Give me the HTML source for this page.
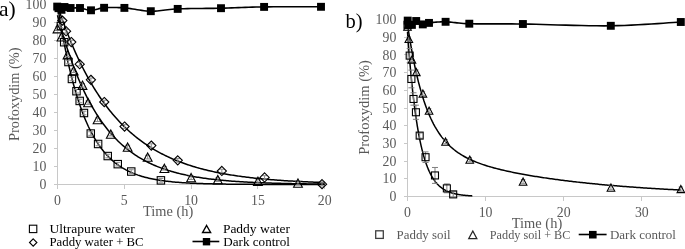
<!DOCTYPE html>
<html><head><meta charset="utf-8"><style>
html,body{margin:0;padding:0;background:#fff;width:685px;height:249px;overflow:hidden}
svg{display:block;font-family:"Liberation Serif",serif;will-change:transform}
</style></head><body>
<svg width="685" height="249" viewBox="0 0 685 249">
<rect width="685" height="249" fill="#fff"/>
<g stroke="#c8c8c8" stroke-width="1" fill="none" shape-rendering="crispEdges">
<path d="M57.5,4.4 V184.5 M53.5,184.5 H324.7"/>
<path d="M53.5,184.50 H57.5"/>
<path d="M53.5,166.49 H57.5"/>
<path d="M53.5,148.48 H57.5"/>
<path d="M53.5,130.47 H57.5"/>
<path d="M53.5,112.46 H57.5"/>
<path d="M53.5,94.45 H57.5"/>
<path d="M53.5,76.44 H57.5"/>
<path d="M53.5,58.43 H57.5"/>
<path d="M53.5,40.42 H57.5"/>
<path d="M53.5,22.41 H57.5"/>
<path d="M53.5,4.40 H57.5"/>
<path d="M57.50,184.5 V188.5"/>
<path d="M124.30,184.5 V188.5"/>
<path d="M191.10,184.5 V188.5"/>
<path d="M257.90,184.5 V188.5"/>
<path d="M324.70,184.5 V188.5"/>
</g>
<text x="46.3" y="189.10" font-size="13.8" fill="#595959" text-anchor="end" >0</text>
<text x="46.3" y="171.09" font-size="13.8" fill="#595959" text-anchor="end" >10</text>
<text x="46.3" y="153.08" font-size="13.8" fill="#595959" text-anchor="end" >20</text>
<text x="46.3" y="135.07" font-size="13.8" fill="#595959" text-anchor="end" >30</text>
<text x="46.3" y="117.06" font-size="13.8" fill="#595959" text-anchor="end" >40</text>
<text x="46.3" y="99.05" font-size="13.8" fill="#595959" text-anchor="end" >50</text>
<text x="46.3" y="81.04" font-size="13.8" fill="#595959" text-anchor="end" >60</text>
<text x="46.3" y="63.03" font-size="13.8" fill="#595959" text-anchor="end" >70</text>
<text x="46.3" y="45.02" font-size="13.8" fill="#595959" text-anchor="end" >80</text>
<text x="46.3" y="27.01" font-size="13.8" fill="#595959" text-anchor="end" >90</text>
<text x="46.3" y="9.00" font-size="13.8" fill="#595959" text-anchor="end" >100</text>
<text x="57.50" y="205.0" font-size="13.8" fill="#595959" text-anchor="middle" >0</text>
<text x="124.30" y="205.0" font-size="13.8" fill="#595959" text-anchor="middle" >5</text>
<text x="191.10" y="205.0" font-size="13.8" fill="#595959" text-anchor="middle" >10</text>
<text x="257.90" y="205.0" font-size="13.8" fill="#595959" text-anchor="middle" >15</text>
<text x="324.70" y="205.0" font-size="13.8" fill="#595959" text-anchor="middle" >20</text>
<path d="M57.50,4.40 L58.84,13.05 L60.19,21.29 L61.53,29.14 L62.87,36.60 L64.21,43.71 L65.56,50.47 L66.90,56.91 L68.24,63.05 L69.58,68.88 L70.93,74.44 L72.27,79.73 L73.61,84.76 L74.96,89.55 L76.30,94.12 L77.64,98.46 L78.98,102.59 L80.33,106.53 L81.67,110.28 L83.01,113.84 L84.35,117.24 L85.70,120.47 L87.04,123.55 L88.38,126.48 L89.73,129.26 L91.07,131.92 L92.41,134.45 L93.75,136.85 L95.10,139.14 L96.44,141.32 L97.78,143.40 L99.12,145.37 L100.47,147.25 L101.81,149.04 L103.15,150.74 L104.49,152.37 L105.84,153.91 L107.18,155.38 L108.52,156.78 L109.87,158.11 L111.21,159.38 L112.55,160.59 L113.89,161.74 L115.24,162.83 L116.58,163.87 L117.92,164.86 L119.26,165.81 L120.61,166.70 L121.95,167.56 L123.29,168.37 L124.64,169.15 L125.98,169.89 L127.32,170.59 L128.66,171.26 L130.01,171.89 L131.35,172.50 L132.69,173.08 L134.03,173.62 L135.38,174.15 L136.72,174.64 L138.06,175.12 L139.41,175.57 L140.75,176.00 L142.09,176.41 L143.43,176.80 L144.78,177.17 L146.12,177.52 L147.46,177.85 L148.80,178.17 L150.15,178.48 L151.49,178.77 L152.83,179.04 L154.18,179.30 L155.52,179.55 L156.86,179.79 L158.20,180.02 L159.55,180.23 L160.89,180.44 L162.23,180.63 L163.57,180.82 L164.92,181.00 L166.26,181.16 L167.60,181.32 L168.95,181.48 L170.29,181.62 L171.63,181.76 L172.97,181.89 L174.32,182.02 L175.66,182.14 L177.00,182.25 L178.34,182.36 L179.69,182.46 L181.03,182.56 L182.37,182.65 L183.72,182.74 L185.06,182.83 L186.40,182.91 L187.74,182.98 L189.09,183.06 L190.43,183.13 L191.77,183.19 L193.11,183.25 L194.46,183.31 L195.80,183.37 L197.14,183.43 L198.48,183.48 L199.83,183.53 L201.17,183.57 L202.51,183.62 L203.86,183.66 L205.20,183.70 L206.54,183.74 L207.88,183.78 L209.23,183.81 L210.57,183.84 L211.91,183.87 L213.25,183.90 L214.60,183.93 L215.94,183.96 L217.28,183.99 L218.63,184.01 L219.97,184.03 L221.31,184.06 L222.65,184.08 L224.00,184.10 L225.34,184.12 L226.68,184.14 L228.02,184.15 L229.37,184.17 L230.71,184.19 L232.05,184.20 L233.40,184.22 L234.74,184.23 L236.08,184.24 L237.42,184.25 L238.77,184.27 L240.11,184.28 L241.45,184.29 L242.79,184.30 L244.14,184.31 L245.48,184.32 L246.82,184.33 L248.17,184.33 L249.51,184.34 L250.85,184.35 L252.19,184.36 L253.54,184.36 L254.88,184.37 L256.22,184.38 L257.56,184.38 L258.91,184.39 L260.25,184.39 L261.59,184.40 L262.94,184.40 L264.28,184.41 L265.62,184.41 L266.96,184.42 L268.31,184.42 L269.65,184.42 L270.99,184.43 L272.33,184.43 L273.68,184.44 L275.02,184.44 L276.36,184.44 L277.71,184.44 L279.05,184.45 L280.39,184.45 L281.73,184.45 L283.08,184.45 L284.42,184.46 L285.76,184.46 L287.10,184.46 L288.45,184.46 L289.79,184.46 L291.13,184.47 L292.47,184.47 L293.82,184.47 L295.16,184.47 L296.50,184.47 L297.85,184.47 L299.19,184.47 L300.53,184.48 L301.87,184.48 L303.22,184.48 L304.56,184.48 L305.90,184.48 L307.24,184.48 L308.59,184.48 L309.93,184.48 L311.27,184.48 L312.62,184.48 L313.96,184.49 L315.30,184.49 L316.64,184.49 L317.99,184.49 L319.33,184.49 L320.67,184.49 L322.01,184.49 L323.36,184.49 L324.70,184.49" fill="none" stroke="#000" stroke-width="1.5"/>
<path d="M57.50,15.21 L58.84,20.23 L60.19,25.11 L61.53,29.85 L62.87,34.44 L64.21,38.90 L65.56,43.22 L66.90,47.42 L68.24,51.49 L69.58,55.44 L70.93,59.27 L72.27,62.99 L73.61,66.60 L74.96,70.10 L76.30,73.50 L77.64,76.80 L78.98,80.00 L80.33,83.10 L81.67,86.11 L83.01,89.03 L84.35,91.87 L85.70,94.62 L87.04,97.29 L88.38,99.88 L89.73,102.39 L91.07,104.83 L92.41,107.20 L93.75,109.49 L95.10,111.72 L96.44,113.88 L97.78,115.98 L99.12,118.02 L100.47,119.99 L101.81,121.91 L103.15,123.77 L104.49,125.57 L105.84,127.32 L107.18,129.02 L108.52,130.67 L109.87,132.26 L111.21,133.82 L112.55,135.32 L113.89,136.78 L115.24,138.20 L116.58,139.57 L117.92,140.91 L119.26,142.20 L120.61,143.46 L121.95,144.68 L123.29,145.86 L124.64,147.01 L125.98,148.12 L127.32,149.20 L128.66,150.25 L130.01,151.27 L131.35,152.26 L132.69,153.21 L134.03,154.14 L135.38,155.04 L136.72,155.92 L138.06,156.77 L139.41,157.59 L140.75,158.39 L142.09,159.17 L143.43,159.92 L144.78,160.65 L146.12,161.36 L147.46,162.04 L148.80,162.71 L150.15,163.36 L151.49,163.99 L152.83,164.60 L154.18,165.19 L155.52,165.76 L156.86,166.32 L158.20,166.86 L159.55,167.38 L160.89,167.89 L162.23,168.38 L163.57,168.86 L164.92,169.33 L166.26,169.78 L167.60,170.21 L168.95,170.64 L170.29,171.05 L171.63,171.45 L172.97,171.84 L174.32,172.21 L175.66,172.58 L177.00,172.93 L178.34,173.28 L179.69,173.61 L181.03,173.93 L182.37,174.25 L183.72,174.55 L185.06,174.85 L186.40,175.13 L187.74,175.41 L189.09,175.68 L190.43,175.94 L191.77,176.20 L193.11,176.44 L194.46,176.68 L195.80,176.92 L197.14,177.14 L198.48,177.36 L199.83,177.57 L201.17,177.78 L202.51,177.98 L203.86,178.17 L205.20,178.36 L206.54,178.54 L207.88,178.72 L209.23,178.89 L210.57,179.06 L211.91,179.22 L213.25,179.37 L214.60,179.53 L215.94,179.67 L217.28,179.82 L218.63,179.96 L219.97,180.09 L221.31,180.22 L222.65,180.35 L224.00,180.47 L225.34,180.59 L226.68,180.71 L228.02,180.82 L229.37,180.93 L230.71,181.04 L232.05,181.14 L233.40,181.24 L234.74,181.34 L236.08,181.43 L237.42,181.52 L238.77,181.61 L240.11,181.70 L241.45,181.78 L242.79,181.86 L244.14,181.94 L245.48,182.01 L246.82,182.09 L248.17,182.16 L249.51,182.23 L250.85,182.30 L252.19,182.36 L253.54,182.43 L254.88,182.49 L256.22,182.55 L257.56,182.61 L258.91,182.66 L260.25,182.72 L261.59,182.77 L262.94,182.82 L264.28,182.87 L265.62,182.92 L266.96,182.97 L268.31,183.01 L269.65,183.06 L270.99,183.10 L272.33,183.14 L273.68,183.18 L275.02,183.22 L276.36,183.26 L277.71,183.29 L279.05,183.33 L280.39,183.37 L281.73,183.40 L283.08,183.43 L284.42,183.46 L285.76,183.49 L287.10,183.52 L288.45,183.55 L289.79,183.58 L291.13,183.61 L292.47,183.63 L293.82,183.66 L295.16,183.69 L296.50,183.71 L297.85,183.73 L299.19,183.76 L300.53,183.78 L301.87,183.80 L303.22,183.82 L304.56,183.84 L305.90,183.86 L307.24,183.88 L308.59,183.90 L309.93,183.92 L311.27,183.93 L312.62,183.95 L313.96,183.97 L315.30,183.98 L316.64,184.00 L317.99,184.01 L319.33,184.03 L320.67,184.04 L322.01,184.05 L323.36,184.07 L324.70,184.08" fill="none" stroke="#000" stroke-width="1.5"/>
<path d="M57.50,5.66 L58.84,9.67 L60.19,13.59 L61.53,17.43 L62.87,21.17 L64.21,24.84 L65.56,28.42 L66.90,31.92 L68.24,35.34 L69.58,38.69 L70.93,41.96 L72.27,45.15 L73.61,48.28 L74.96,51.33 L76.30,54.32 L77.64,57.24 L78.98,60.09 L80.33,62.88 L81.67,65.61 L83.01,68.28 L84.35,70.88 L85.70,73.43 L87.04,75.92 L88.38,78.36 L89.73,80.74 L91.07,83.07 L92.41,85.34 L93.75,87.57 L95.10,89.74 L96.44,91.86 L97.78,93.94 L99.12,95.97 L100.47,97.96 L101.81,99.90 L103.15,101.80 L104.49,103.65 L105.84,105.47 L107.18,107.24 L108.52,108.97 L109.87,110.66 L111.21,112.32 L112.55,113.94 L113.89,115.52 L115.24,117.07 L116.58,118.58 L117.92,120.06 L119.26,121.51 L120.61,122.92 L121.95,124.30 L123.29,125.65 L124.64,126.97 L125.98,128.26 L127.32,129.52 L128.66,130.75 L130.01,131.96 L131.35,133.14 L132.69,134.29 L134.03,135.42 L135.38,136.52 L136.72,137.59 L138.06,138.65 L139.41,139.67 L140.75,140.68 L142.09,141.66 L143.43,142.62 L144.78,143.56 L146.12,144.48 L147.46,145.38 L148.80,146.25 L150.15,147.11 L151.49,147.95 L152.83,148.77 L154.18,149.57 L155.52,150.36 L156.86,151.12 L158.20,151.87 L159.55,152.60 L160.89,153.32 L162.23,154.02 L163.57,154.70 L164.92,155.37 L166.26,156.02 L167.60,156.66 L168.95,157.29 L170.29,157.90 L171.63,158.49 L172.97,159.08 L174.32,159.65 L175.66,160.20 L177.00,160.75 L178.34,161.28 L179.69,161.80 L181.03,162.31 L182.37,162.81 L183.72,163.29 L185.06,163.77 L186.40,164.24 L187.74,164.69 L189.09,165.13 L190.43,165.57 L191.77,165.99 L193.11,166.41 L194.46,166.81 L195.80,167.21 L197.14,167.60 L198.48,167.98 L199.83,168.35 L201.17,168.71 L202.51,169.06 L203.86,169.41 L205.20,169.75 L206.54,170.08 L207.88,170.40 L209.23,170.72 L210.57,171.03 L211.91,171.33 L213.25,171.63 L214.60,171.91 L215.94,172.20 L217.28,172.47 L218.63,172.74 L219.97,173.01 L221.31,173.26 L222.65,173.52 L224.00,173.76 L225.34,174.00 L226.68,174.24 L228.02,174.47 L229.37,174.69 L230.71,174.91 L232.05,175.13 L233.40,175.34 L234.74,175.54 L236.08,175.75 L237.42,175.94 L238.77,176.13 L240.11,176.32 L241.45,176.50 L242.79,176.68 L244.14,176.86 L245.48,177.03 L246.82,177.20 L248.17,177.36 L249.51,177.52 L250.85,177.68 L252.19,177.83 L253.54,177.98 L254.88,178.13 L256.22,178.27 L257.56,178.41 L258.91,178.55 L260.25,178.68 L261.59,178.81 L262.94,178.94 L264.28,179.06 L265.62,179.18 L266.96,179.30 L268.31,179.42 L269.65,179.53 L270.99,179.65 L272.33,179.75 L273.68,179.86 L275.02,179.97 L276.36,180.07 L277.71,180.17 L279.05,180.26 L280.39,180.36 L281.73,180.45 L283.08,180.54 L284.42,180.63 L285.76,180.72 L287.10,180.80 L288.45,180.89 L289.79,180.97 L291.13,181.05 L292.47,181.12 L293.82,181.20 L295.16,181.27 L296.50,181.35 L297.85,181.42 L299.19,181.49 L300.53,181.55 L301.87,181.62 L303.22,181.68 L304.56,181.75 L305.90,181.81 L307.24,181.87 L308.59,181.93 L309.93,181.99 L311.27,182.04 L312.62,182.10 L313.96,182.15 L315.30,182.20 L316.64,182.26 L317.99,182.31 L319.33,182.35 L320.67,182.40 L322.01,182.45 L323.36,182.50 L324.70,182.54" fill="none" stroke="#000" stroke-width="1.5"/>
<g stroke="#8c8c8c" stroke-width="1" fill="none">
<path d="M60.84,24.21 V27.81 M58.34,24.21 H63.34 M58.34,27.81 H63.34"/>
<path d="M64.18,40.42 V44.02 M61.68,40.42 H66.68 M61.68,44.02 H66.68"/>
<path d="M68.46,60.23 V63.83 M65.96,60.23 H70.96 M65.96,63.83 H70.96"/>
<path d="M71.93,77.16 V80.76 M69.43,77.16 H74.43 M69.43,80.76 H74.43"/>
<path d="M76.47,89.41 V93.01 M73.97,89.41 H78.97 M73.97,93.01 H78.97"/>
<path d="M79.68,99.13 V102.73 M77.18,99.13 H82.18 M77.18,102.73 H82.18"/>
<path d="M83.95,111.20 V114.80 M81.45,111.20 H86.45 M81.45,114.80 H86.45"/>
<path d="M90.77,131.73 V135.33 M88.27,131.73 H93.27 M88.27,135.33 H93.27"/>
<path d="M98.11,142.18 V145.78 M95.61,142.18 H100.61 M95.61,145.78 H100.61"/>
<path d="M107.73,154.24 V157.85 M105.23,154.24 H110.23 M105.23,157.85 H110.23"/>
<path d="M117.75,162.35 V165.95 M115.25,162.35 H120.25 M115.25,165.95 H120.25"/>
<path d="M131.25,169.73 V173.33 M128.75,169.73 H133.75 M128.75,173.33 H133.75"/>
<path d="M160.91,178.56 V182.16 M158.41,178.56 H163.41 M158.41,182.16 H163.41"/>
</g>
<g stroke="#8c8c8c" stroke-width="1" fill="none">
<path d="M57.50,26.91 V30.51 M55.00,26.91 H60.00 M55.00,30.51 H60.00"/>
<path d="M61.51,35.02 V38.62 M59.01,35.02 H64.01 M59.01,38.62 H64.01"/>
<path d="M67.52,53.03 V56.63 M65.02,53.03 H70.02 M65.02,56.63 H70.02"/>
<path d="M73.67,68.88 V72.48 M71.17,68.88 H76.17 M71.17,72.48 H76.17"/>
<path d="M82.48,83.46 V87.07 M79.98,83.46 H84.98 M79.98,87.07 H84.98"/>
<path d="M88.09,100.75 V104.36 M85.59,100.75 H90.59 M85.59,104.36 H90.59"/>
<path d="M97.58,117.86 V121.47 M95.08,117.86 H100.08 M95.08,121.47 H100.08"/>
<path d="M110.81,132.27 V135.87 M108.31,132.27 H113.31 M108.31,135.87 H113.31"/>
<path d="M127.64,145.24 V148.84 M125.14,145.24 H130.14 M125.14,148.84 H130.14"/>
<path d="M147.68,155.32 V158.93 M145.18,155.32 H150.18 M145.18,158.93 H150.18"/>
<path d="M164.38,166.49 V170.09 M161.88,166.49 H166.88 M161.88,170.09 H166.88"/>
<path d="M191.10,175.86 V179.46 M188.60,175.86 H193.60 M188.60,179.46 H193.60"/>
<path d="M217.82,177.84 V181.44 M215.32,177.84 H220.32 M215.32,181.44 H220.32"/>
<path d="M257.90,179.46 V183.06 M255.40,179.46 H260.40 M255.40,183.06 H260.40"/>
<path d="M297.98,181.26 V184.86 M295.48,181.26 H300.48 M295.48,184.86 H300.48"/>
</g>
<g stroke="#8c8c8c" stroke-width="1" fill="none">
<path d="M62.31,18.81 V22.41 M59.81,18.81 H64.81 M59.81,22.41 H64.81"/>
<path d="M66.05,29.43 V33.04 M63.55,29.43 H68.55 M63.55,33.04 H68.55"/>
<path d="M71.26,40.24 V43.84 M68.76,40.24 H73.76 M68.76,43.84 H73.76"/>
<path d="M79.68,62.39 V65.99 M77.18,62.39 H82.18 M77.18,65.99 H82.18"/>
<path d="M90.90,78.06 V81.66 M88.40,78.06 H93.40 M88.40,81.66 H93.40"/>
<path d="M104.26,100.21 V103.82 M101.76,100.21 H106.76 M101.76,103.82 H106.76"/>
<path d="M124.57,124.71 V128.31 M122.07,124.71 H127.07 M122.07,128.31 H127.07"/>
<path d="M151.29,143.80 V147.40 M148.79,143.80 H153.79 M148.79,147.40 H153.79"/>
<path d="M177.74,158.57 V162.17 M175.24,158.57 H180.24 M175.24,162.17 H180.24"/>
<path d="M221.83,169.19 V172.79 M219.33,169.19 H224.33 M219.33,172.79 H224.33"/>
<path d="M264.58,175.68 V179.28 M262.08,175.68 H267.08 M262.08,179.28 H267.08"/>
<path d="M322.03,182.34 V185.94 M319.53,182.34 H324.53 M319.53,185.94 H324.53"/>
</g>
<rect x="57.14" y="22.31" width="7.4" height="7.4" fill="none" stroke="#000" stroke-width="1.1"/>
<rect x="60.48" y="38.52" width="7.4" height="7.4" fill="none" stroke="#000" stroke-width="1.1"/>
<rect x="64.76" y="58.33" width="7.4" height="7.4" fill="none" stroke="#000" stroke-width="1.1"/>
<rect x="68.23" y="75.26" width="7.4" height="7.4" fill="none" stroke="#000" stroke-width="1.1"/>
<rect x="72.77" y="87.51" width="7.4" height="7.4" fill="none" stroke="#000" stroke-width="1.1"/>
<rect x="75.98" y="97.23" width="7.4" height="7.4" fill="none" stroke="#000" stroke-width="1.1"/>
<rect x="80.25" y="109.30" width="7.4" height="7.4" fill="none" stroke="#000" stroke-width="1.1"/>
<rect x="87.07" y="129.83" width="7.4" height="7.4" fill="none" stroke="#000" stroke-width="1.1"/>
<rect x="94.41" y="140.28" width="7.4" height="7.4" fill="none" stroke="#000" stroke-width="1.1"/>
<rect x="104.03" y="152.34" width="7.4" height="7.4" fill="none" stroke="#000" stroke-width="1.1"/>
<rect x="114.05" y="160.45" width="7.4" height="7.4" fill="none" stroke="#000" stroke-width="1.1"/>
<rect x="127.55" y="167.83" width="7.4" height="7.4" fill="none" stroke="#000" stroke-width="1.1"/>
<rect x="157.21" y="176.66" width="7.4" height="7.4" fill="none" stroke="#000" stroke-width="1.1"/>
<path d="M57.50,24.56 L61.90,32.86 L53.10,32.86 Z" fill="none" stroke="#000" stroke-width="1.1" stroke-linejoin="miter"/>
<path d="M61.51,32.67 L65.91,40.97 L57.11,40.97 Z" fill="none" stroke="#000" stroke-width="1.1" stroke-linejoin="miter"/>
<path d="M67.52,50.68 L71.92,58.98 L63.12,58.98 Z" fill="none" stroke="#000" stroke-width="1.1" stroke-linejoin="miter"/>
<path d="M73.67,66.53 L78.07,74.83 L69.27,74.83 Z" fill="none" stroke="#000" stroke-width="1.1" stroke-linejoin="miter"/>
<path d="M82.48,81.11 L86.88,89.41 L78.08,89.41 Z" fill="none" stroke="#000" stroke-width="1.1" stroke-linejoin="miter"/>
<path d="M88.09,98.40 L92.49,106.70 L83.69,106.70 Z" fill="none" stroke="#000" stroke-width="1.1" stroke-linejoin="miter"/>
<path d="M97.58,115.51 L101.98,123.81 L93.18,123.81 Z" fill="none" stroke="#000" stroke-width="1.1" stroke-linejoin="miter"/>
<path d="M110.81,129.92 L115.21,138.22 L106.41,138.22 Z" fill="none" stroke="#000" stroke-width="1.1" stroke-linejoin="miter"/>
<path d="M127.64,142.89 L132.04,151.19 L123.24,151.19 Z" fill="none" stroke="#000" stroke-width="1.1" stroke-linejoin="miter"/>
<path d="M147.68,152.97 L152.08,161.27 L143.28,161.27 Z" fill="none" stroke="#000" stroke-width="1.1" stroke-linejoin="miter"/>
<path d="M164.38,164.14 L168.78,172.44 L159.98,172.44 Z" fill="none" stroke="#000" stroke-width="1.1" stroke-linejoin="miter"/>
<path d="M191.10,173.51 L195.50,181.81 L186.70,181.81 Z" fill="none" stroke="#000" stroke-width="1.1" stroke-linejoin="miter"/>
<path d="M217.82,175.49 L222.22,183.79 L213.42,183.79 Z" fill="none" stroke="#000" stroke-width="1.1" stroke-linejoin="miter"/>
<path d="M257.90,177.11 L262.30,185.41 L253.50,185.41 Z" fill="none" stroke="#000" stroke-width="1.1" stroke-linejoin="miter"/>
<path d="M297.98,178.91 L302.38,187.21 L293.58,187.21 Z" fill="none" stroke="#000" stroke-width="1.1" stroke-linejoin="miter"/>
<path d="M62.31,16.01 L66.91,20.61 L62.31,25.21 L57.71,20.61 Z" fill="none" stroke="#000" stroke-width="1.1"/>
<path d="M66.05,26.63 L70.65,31.23 L66.05,35.83 L61.45,31.23 Z" fill="none" stroke="#000" stroke-width="1.1"/>
<path d="M71.26,37.44 L75.86,42.04 L71.26,46.64 L66.66,42.04 Z" fill="none" stroke="#000" stroke-width="1.1"/>
<path d="M79.68,59.59 L84.28,64.19 L79.68,68.79 L75.08,64.19 Z" fill="none" stroke="#000" stroke-width="1.1"/>
<path d="M90.90,75.26 L95.50,79.86 L90.90,84.46 L86.30,79.86 Z" fill="none" stroke="#000" stroke-width="1.1"/>
<path d="M104.26,97.41 L108.86,102.01 L104.26,106.61 L99.66,102.01 Z" fill="none" stroke="#000" stroke-width="1.1"/>
<path d="M124.57,121.91 L129.17,126.51 L124.57,131.11 L119.97,126.51 Z" fill="none" stroke="#000" stroke-width="1.1"/>
<path d="M151.29,141.00 L155.89,145.60 L151.29,150.20 L146.69,145.60 Z" fill="none" stroke="#000" stroke-width="1.1"/>
<path d="M177.74,155.77 L182.34,160.37 L177.74,164.97 L173.14,160.37 Z" fill="none" stroke="#000" stroke-width="1.1"/>
<path d="M221.83,166.39 L226.43,170.99 L221.83,175.59 L217.23,170.99 Z" fill="none" stroke="#000" stroke-width="1.1"/>
<path d="M264.58,172.88 L269.18,177.48 L264.58,182.08 L259.98,177.48 Z" fill="none" stroke="#000" stroke-width="1.1"/>
<path d="M322.03,179.54 L326.63,184.14 L322.03,188.74 L317.43,184.14 Z" fill="none" stroke="#000" stroke-width="1.1"/>
<path d="M57.20,6.60 L57.26,6.68 L57.32,6.77 L57.39,6.89 L57.47,7.01 L57.56,7.15 L57.66,7.30 L57.77,7.45 L57.89,7.61 L58.03,7.76 L58.17,7.91 L58.33,8.06 L58.50,8.20 L58.69,8.35 L58.90,8.52 L59.13,8.70 L59.37,8.90 L59.63,9.09 L59.89,9.28 L60.16,9.45 L60.44,9.59 L60.71,9.71 L60.98,9.79 L61.24,9.82 L61.50,9.80 L61.74,9.71 L61.96,9.54 L62.18,9.32 L62.39,9.05 L62.59,8.75 L62.81,8.44 L63.03,8.12 L63.27,7.81 L63.53,7.54 L63.82,7.30 L64.14,7.11 L64.50,7.00 L64.89,6.95 L65.30,6.96 L65.73,7.01 L66.18,7.09 L66.65,7.20 L67.15,7.33 L67.67,7.46 L68.21,7.60 L68.77,7.73 L69.36,7.85 L69.97,7.94 L70.60,8.00 L71.26,8.03 L71.96,8.03 L72.68,8.02 L73.43,7.99 L74.20,7.95 L74.99,7.92 L75.80,7.89 L76.63,7.87 L77.46,7.86 L78.30,7.88 L79.15,7.92 L80.00,8.00 L80.85,8.13 L81.72,8.31 L82.59,8.53 L83.47,8.77 L84.36,9.04 L85.27,9.31 L86.19,9.57 L87.12,9.80 L88.06,10.01 L89.03,10.17 L90.00,10.27 L91.00,10.30 L92.00,10.25 L92.98,10.13 L93.96,9.95 L94.94,9.73 L95.94,9.47 L96.97,9.19 L98.02,8.90 L99.12,8.62 L100.27,8.35 L101.48,8.12 L102.75,7.93 L104.10,7.80 L105.52,7.71 L107.00,7.63 L108.53,7.57 L110.11,7.52 L111.74,7.50 L113.42,7.49 L115.14,7.50 L116.91,7.53 L118.73,7.59 L120.58,7.67 L122.47,7.77 L124.40,7.90 L126.38,8.08 L128.44,8.33 L130.56,8.63 L132.73,8.97 L134.94,9.33 L137.19,9.70 L139.46,10.06 L141.74,10.40 L144.02,10.69 L146.30,10.94 L148.56,11.11 L150.80,11.20 L152.97,11.20 L155.06,11.12 L157.11,10.98 L159.12,10.79 L161.14,10.56 L163.19,10.30 L165.30,10.03 L167.50,9.76 L169.81,9.49 L172.26,9.26 L174.88,9.05 L177.70,8.90 L180.73,8.79 L183.97,8.70 L187.38,8.63 L190.93,8.57 L194.59,8.53 L198.34,8.49 L202.14,8.45 L205.97,8.42 L209.80,8.38 L213.61,8.33 L217.35,8.27 L221.00,8.20 L224.55,8.11 L228.04,8.00 L231.47,7.89 L234.87,7.77 L238.27,7.64 L241.70,7.51 L245.17,7.39 L248.72,7.27 L252.36,7.15 L256.12,7.05 L260.03,6.97 L264.10,6.90 L268.54,6.85 L273.44,6.81 L278.69,6.79 L284.15,6.77 L289.71,6.77 L295.24,6.77 L300.63,6.77 L305.74,6.78 L310.45,6.79 L314.65,6.80 L318.21,6.80 L321.00,6.80" fill="none" stroke="#000" stroke-width="1.6"/>
<rect x="53.25" y="2.65" width="7.9" height="7.9" fill="#000"/>
<rect x="54.55" y="4.25" width="7.9" height="7.9" fill="#000"/>
<rect x="57.55" y="5.85" width="7.9" height="7.9" fill="#000"/>
<rect x="60.55" y="3.05" width="7.9" height="7.9" fill="#000"/>
<rect x="66.65" y="4.05" width="7.9" height="7.9" fill="#000"/>
<rect x="76.05" y="4.05" width="7.9" height="7.9" fill="#000"/>
<rect x="87.05" y="6.35" width="7.9" height="7.9" fill="#000"/>
<rect x="100.15" y="3.85" width="7.9" height="7.9" fill="#000"/>
<rect x="120.45" y="3.95" width="7.9" height="7.9" fill="#000"/>
<rect x="146.85" y="7.25" width="7.9" height="7.9" fill="#000"/>
<rect x="173.75" y="4.95" width="7.9" height="7.9" fill="#000"/>
<rect x="217.05" y="4.25" width="7.9" height="7.9" fill="#000"/>
<rect x="260.15" y="2.95" width="7.9" height="7.9" fill="#000"/>
<rect x="317.05" y="2.85" width="7.9" height="7.9" fill="#000"/>
<text x="0" y="0" font-size="14.5" fill="#595959" transform="translate(18.6,141) rotate(-90)" textLength="93.5" lengthAdjust="spacingAndGlyphs">Profoxydim (%)</text>
<text x="143.1" y="215.6" font-size="14.5" fill="#595959" textLength="50.2" lengthAdjust="spacingAndGlyphs">Time (h)</text>
<text x="-1.0" y="15.6" font-size="21.5" fill="#000">a)</text>
<rect x="29.40" y="225.20" width="7.4" height="7.4" fill="none" stroke="#000" stroke-width="1.1"/>
<path d="M33.20,238.80 L36.90,242.50 L33.20,246.20 L29.50,242.50 Z" fill="none" stroke="#000" stroke-width="1.1"/>
<path d="M206.60,225.50 L210.60,232.50 L202.60,232.50 Z" fill="none" stroke="#000" stroke-width="1.4" stroke-linejoin="miter"/>
<path d="M192.5,241.5 H219.3" stroke="#000" stroke-width="1.6"/>
<rect x="202.80" y="238.00" width="7.4" height="7.4" fill="#000"/>
<text x="49.5" y="232.5" font-size="13.2" fill="#000" textLength="85.4" lengthAdjust="spacingAndGlyphs">Ultrapure water</text>
<text x="49.5" y="246.2" font-size="13.2" fill="#000" textLength="94.1" lengthAdjust="spacingAndGlyphs">Paddy water + BC</text>
<text x="222.9" y="232.5" font-size="13.2" fill="#000" textLength="67" lengthAdjust="spacingAndGlyphs">Paddy water</text>
<text x="223.3" y="246.2" font-size="13.2" fill="#000" textLength="66.6" lengthAdjust="spacingAndGlyphs">Dark control</text>
<g stroke="#c8c8c8" stroke-width="1" fill="none" shape-rendering="crispEdges">
<path d="M407.5,19.5 V196.5 M403.5,196.5 H680.8"/>
<path d="M403.5,196.50 H407.5"/>
<path d="M403.5,178.80 H407.5"/>
<path d="M403.5,161.10 H407.5"/>
<path d="M403.5,143.40 H407.5"/>
<path d="M403.5,125.70 H407.5"/>
<path d="M403.5,108.00 H407.5"/>
<path d="M403.5,90.30 H407.5"/>
<path d="M403.5,72.60 H407.5"/>
<path d="M403.5,54.90 H407.5"/>
<path d="M403.5,37.20 H407.5"/>
<path d="M403.5,19.50 H407.5"/>
<path d="M407.50,196.5 V200.5"/>
<path d="M485.60,196.5 V200.5"/>
<path d="M563.70,196.5 V200.5"/>
<path d="M641.80,196.5 V200.5"/>
</g>
<text x="396.3" y="201.10" font-size="13.8" fill="#595959" text-anchor="end" >0</text>
<text x="396.3" y="183.40" font-size="13.8" fill="#595959" text-anchor="end" >10</text>
<text x="396.3" y="165.70" font-size="13.8" fill="#595959" text-anchor="end" >20</text>
<text x="396.3" y="148.00" font-size="13.8" fill="#595959" text-anchor="end" >30</text>
<text x="396.3" y="130.30" font-size="13.8" fill="#595959" text-anchor="end" >40</text>
<text x="396.3" y="112.60" font-size="13.8" fill="#595959" text-anchor="end" >50</text>
<text x="396.3" y="94.90" font-size="13.8" fill="#595959" text-anchor="end" >60</text>
<text x="396.3" y="77.20" font-size="13.8" fill="#595959" text-anchor="end" >70</text>
<text x="396.3" y="59.50" font-size="13.8" fill="#595959" text-anchor="end" >80</text>
<text x="396.3" y="41.80" font-size="13.8" fill="#595959" text-anchor="end" >90</text>
<text x="396.3" y="24.10" font-size="13.8" fill="#595959" text-anchor="end" >100</text>
<text x="407.50" y="216.8" font-size="13.8" fill="#595959" text-anchor="middle" >0</text>
<text x="485.60" y="216.8" font-size="13.8" fill="#595959" text-anchor="middle" >10</text>
<text x="563.70" y="216.8" font-size="13.8" fill="#595959" text-anchor="middle" >20</text>
<text x="641.80" y="216.8" font-size="13.8" fill="#595959" text-anchor="middle" >30</text>
<path d="M407.50,31.89 L407.83,36.46 L408.15,40.90 L408.48,45.22 L408.80,49.42 L409.13,53.50 L409.45,57.47 L409.78,61.33 L410.11,65.09 L410.43,68.73 L410.76,72.28 L411.08,75.73 L411.41,79.08 L411.73,82.34 L412.06,85.51 L412.39,88.59 L412.71,91.59 L413.04,94.50 L413.36,97.33 L413.69,100.08 L414.01,102.76 L414.34,105.36 L414.67,107.89 L414.99,110.35 L415.32,112.74 L415.64,115.07 L415.97,117.33 L416.30,119.53 L416.62,121.66 L416.95,123.74 L417.27,125.76 L417.60,127.73 L417.92,129.64 L418.25,131.49 L418.58,133.30 L418.90,135.05 L419.23,136.76 L419.55,138.41 L419.88,140.03 L420.20,141.60 L420.53,143.12 L420.86,144.60 L421.18,146.04 L421.51,147.44 L421.83,148.80 L422.16,150.13 L422.48,151.42 L422.81,152.67 L423.14,153.88 L423.46,155.07 L423.79,156.22 L424.11,157.34 L424.44,158.42 L424.76,159.48 L425.09,160.51 L425.42,161.51 L425.74,162.48 L426.07,163.42 L426.39,164.34 L426.72,165.23 L427.04,166.10 L427.37,166.95 L427.70,167.77 L428.02,168.56 L428.35,169.34 L428.67,170.09 L429.00,170.83 L429.32,171.54 L429.65,172.23 L429.98,172.91 L430.30,173.56 L430.63,174.20 L430.95,174.82 L431.28,175.42 L431.61,176.00 L431.93,176.57 L432.26,177.13 L432.58,177.66 L432.91,178.19 L433.23,178.70 L433.56,179.19 L433.89,179.67 L434.21,180.14 L434.54,180.59 L434.86,181.03 L435.19,181.46 L435.51,181.88 L435.84,182.29 L436.17,182.68 L436.49,183.06 L436.82,183.44 L437.14,183.80 L437.47,184.15 L437.79,184.49 L438.12,184.83 L438.45,185.15 L438.77,185.47 L439.10,185.77 L439.42,186.07 L439.75,186.36 L440.07,186.64 L440.40,186.92 L440.73,187.18 L441.05,187.44 L441.38,187.69 L441.70,187.94 L442.03,188.17 L442.35,188.41 L442.68,188.63 L443.01,188.85 L443.33,189.06 L443.66,189.27 L443.98,189.47 L444.31,189.66 L444.63,189.85 L444.96,190.04 L445.29,190.22 L445.61,190.39 L445.94,190.56 L446.26,190.73 L446.59,190.89 L446.91,191.04 L447.24,191.19 L447.57,191.34 L447.89,191.48 L448.22,191.62 L448.54,191.76 L448.87,191.89 L449.20,192.02 L449.52,192.14 L449.85,192.26 L450.17,192.38 L450.50,192.50 L450.82,192.61 L451.15,192.72 L451.48,192.82 L451.80,192.92 L452.13,193.02 L452.45,193.12 L452.78,193.21 L453.10,193.30 L453.43,193.39 L453.76,193.48 L454.08,193.56 L454.41,193.64 L454.73,193.72 L455.06,193.80 L455.38,193.88 L455.71,193.95 L456.04,194.02 L456.36,194.09 L456.69,194.15 L457.01,194.22 L457.34,194.28 L457.66,194.34 L457.99,194.40 L458.32,194.46 L458.64,194.52 L458.97,194.57 L459.29,194.63 L459.62,194.68 L459.94,194.73 L460.27,194.78 L460.60,194.83 L460.92,194.87 L461.25,194.92 L461.57,194.96 L461.90,195.01 L462.22,195.05 L462.55,195.09 L462.88,195.13 L463.20,195.16 L463.53,195.20 L463.85,195.24 L464.18,195.27 L464.51,195.31 L464.83,195.34 L465.16,195.37 L465.48,195.40 L465.81,195.43 L466.13,195.46 L466.46,195.49 L466.79,195.52 L467.11,195.55 L467.44,195.57 L467.76,195.60 L468.09,195.62 L468.41,195.65 L468.74,195.67 L469.07,195.70 L469.39,195.72 L469.72,195.74 L470.04,195.76 L470.37,195.78 L470.69,195.80 L471.02,195.82 L471.35,195.84 L471.67,195.86 L472.00,195.88 L472.32,195.89" fill="none" stroke="#000" stroke-width="1.5"/>
<path d="M407.50,24.13 L408.87,33.28 L410.25,41.80 L411.62,49.74 L412.99,57.14 L414.37,64.04 L415.74,70.47 L417.12,76.47 L418.49,82.07 L419.86,87.29 L421.24,92.17 L422.61,96.73 L423.98,100.99 L425.36,104.97 L426.73,108.70 L428.10,112.19 L429.48,115.45 L430.85,118.51 L432.23,121.38 L433.60,124.07 L434.97,126.59 L436.35,128.96 L437.72,131.18 L439.09,133.28 L440.47,135.25 L441.84,137.10 L443.21,138.85 L444.59,140.50 L445.96,142.06 L447.33,143.52 L448.71,144.91 L450.08,146.23 L451.46,147.47 L452.83,148.65 L454.20,149.77 L455.58,150.84 L456.95,151.85 L458.32,152.81 L459.70,153.73 L461.07,154.60 L462.44,155.44 L463.82,156.24 L465.19,157.00 L466.57,157.73 L467.94,158.43 L469.31,159.10 L470.69,159.75 L472.06,160.37 L473.43,160.96 L474.81,161.54 L476.18,162.09 L477.55,162.63 L478.93,163.15 L480.30,163.65 L481.68,164.13 L483.05,164.60 L484.42,165.06 L485.80,165.50 L487.17,165.93 L488.54,166.35 L489.92,166.75 L491.29,167.15 L492.66,167.54 L494.04,167.91 L495.41,168.28 L496.79,168.64 L498.16,168.99 L499.53,169.33 L500.91,169.67 L502.28,170.00 L503.65,170.32 L505.03,170.64 L506.40,170.94 L507.77,171.25 L509.15,171.55 L510.52,171.84 L511.89,172.13 L513.27,172.41 L514.64,172.69 L516.02,172.96 L517.39,173.23 L518.76,173.49 L520.14,173.76 L521.51,174.01 L522.88,174.26 L524.26,174.51 L525.63,174.76 L527.00,175.00 L528.38,175.24 L529.75,175.48 L531.13,175.71 L532.50,175.94 L533.87,176.16 L535.25,176.39 L536.62,176.61 L537.99,176.82 L539.37,177.04 L540.74,177.25 L542.11,177.46 L543.49,177.66 L544.86,177.87 L546.24,178.07 L547.61,178.27 L548.98,178.47 L550.36,178.66 L551.73,178.85 L553.10,179.04 L554.48,179.23 L555.85,179.42 L557.22,179.60 L558.60,179.78 L559.97,179.96 L561.35,180.14 L562.72,180.31 L564.09,180.49 L565.47,180.66 L566.84,180.83 L568.21,180.99 L569.59,181.16 L570.96,181.32 L572.33,181.49 L573.71,181.65 L575.08,181.80 L576.46,181.96 L577.83,182.12 L579.20,182.27 L580.58,182.42 L581.95,182.57 L583.32,182.72 L584.70,182.86 L586.07,183.01 L587.44,183.15 L588.82,183.30 L590.19,183.44 L591.56,183.57 L592.94,183.71 L594.31,183.85 L595.69,183.98 L597.06,184.12 L598.43,184.25 L599.81,184.38 L601.18,184.51 L602.55,184.63 L603.93,184.76 L605.30,184.88 L606.67,185.01 L608.05,185.13 L609.42,185.25 L610.80,185.37 L612.17,185.49 L613.54,185.60 L614.92,185.72 L616.29,185.83 L617.66,185.95 L619.04,186.06 L620.41,186.17 L621.78,186.28 L623.16,186.39 L624.53,186.50 L625.91,186.60 L627.28,186.71 L628.65,186.81 L630.03,186.91 L631.40,187.02 L632.77,187.12 L634.15,187.22 L635.52,187.31 L636.89,187.41 L638.27,187.51 L639.64,187.60 L641.02,187.70 L642.39,187.79 L643.76,187.88 L645.14,187.98 L646.51,188.07 L647.88,188.16 L649.26,188.24 L650.63,188.33 L652.00,188.42 L653.38,188.50 L654.75,188.59 L656.12,188.67 L657.50,188.76 L658.87,188.84 L660.25,188.92 L661.62,189.00 L662.99,189.08 L664.37,189.16 L665.74,189.24 L667.11,189.31 L668.49,189.39 L669.86,189.46 L671.23,189.54 L672.61,189.61 L673.98,189.69 L675.36,189.76 L676.73,189.83 L678.10,189.90 L679.48,189.97 L680.85,190.04" fill="none" stroke="#000" stroke-width="1.5"/>
<g stroke="#7f7f7f" stroke-width="1" fill="none">
<path d="M407.50,19.50 V30.12 M404.50,19.50 H410.50 M404.50,30.12 H410.50"/>
<path d="M409.69,48.53 V62.69 M406.69,48.53 H412.69 M406.69,62.69 H412.69"/>
<path d="M411.40,70.12 V87.82 M408.40,70.12 H414.40 M408.40,87.82 H414.40"/>
<path d="M413.51,92.78 V105.17 M410.51,92.78 H416.51 M410.51,105.17 H416.51"/>
<path d="M415.93,105.17 V119.33 M412.93,105.17 H418.93 M412.93,119.33 H418.93"/>
<path d="M419.68,132.96 V138.27 M416.68,132.96 H422.68 M416.68,138.27 H422.68"/>
<path d="M425.54,151.90 V162.52 M422.54,151.90 H428.54 M422.54,162.52 H428.54"/>
<path d="M434.99,167.47 V183.40 M431.99,167.47 H437.99 M431.99,183.40 H437.99"/>
<path d="M446.86,183.93 V192.78 M443.86,183.93 H449.86 M443.86,192.78 H449.86"/>
<path d="M453.19,191.72 V197.03 M450.19,191.72 H456.19 M450.19,197.03 H456.19"/>
</g>
<rect x="404.00" y="21.31" width="7" height="7" fill="none" stroke="#000" stroke-width="1.1"/>
<rect x="406.19" y="52.11" width="7" height="7" fill="none" stroke="#000" stroke-width="1.1"/>
<rect x="407.90" y="75.47" width="7" height="7" fill="none" stroke="#000" stroke-width="1.1"/>
<rect x="410.01" y="95.47" width="7" height="7" fill="none" stroke="#000" stroke-width="1.1"/>
<rect x="412.43" y="108.75" width="7" height="7" fill="none" stroke="#000" stroke-width="1.1"/>
<rect x="416.18" y="132.11" width="7" height="7" fill="none" stroke="#000" stroke-width="1.1"/>
<rect x="422.04" y="153.71" width="7" height="7" fill="none" stroke="#000" stroke-width="1.1"/>
<rect x="431.49" y="171.94" width="7" height="7" fill="none" stroke="#000" stroke-width="1.1"/>
<rect x="443.36" y="184.86" width="7" height="7" fill="none" stroke="#000" stroke-width="1.1"/>
<rect x="449.69" y="190.88" width="7" height="7" fill="none" stroke="#000" stroke-width="1.1"/>
<g stroke="#8c8c8c" stroke-width="1" fill="none">
<path d="M408.83,36.85 V41.09 M406.63,36.85 H411.03 M406.63,41.09 H411.03"/>
<path d="M411.95,57.38 V61.63 M409.75,57.38 H414.15 M409.75,61.63 H414.15"/>
<path d="M416.33,69.94 V74.19 M414.13,69.94 H418.53 M414.13,74.19 H418.53"/>
<path d="M422.89,91.36 V95.61 M420.69,91.36 H425.09 M420.69,95.61 H425.09"/>
<path d="M429.06,108.53 V112.78 M426.86,108.53 H431.26 M426.86,112.78 H431.26"/>
<path d="M445.53,139.51 V143.75 M443.33,139.51 H447.73 M443.33,143.75 H447.73"/>
<path d="M469.75,157.56 V161.81 M467.55,157.56 H471.95 M467.55,161.81 H471.95"/>
<path d="M523.09,179.51 V183.76 M520.89,179.51 H525.29 M520.89,183.76 H525.29"/>
<path d="M610.95,185.53 V189.77 M608.75,185.53 H613.15 M608.75,189.77 H613.15"/>
<path d="M680.85,186.94 V191.19 M678.65,186.94 H683.05 M678.65,191.19 H683.05"/>
</g>
<path d="M407.50,22.98 L411.30,30.18 L403.70,30.18 Z" fill="none" stroke="#000" stroke-width="1.1" stroke-linejoin="miter"/>
<path d="M408.83,35.37 L412.63,42.57 L405.03,42.57 Z" fill="none" stroke="#000" stroke-width="1.1" stroke-linejoin="miter"/>
<path d="M411.95,55.90 L415.75,63.10 L408.15,63.10 Z" fill="none" stroke="#000" stroke-width="1.1" stroke-linejoin="miter"/>
<path d="M416.33,68.47 L420.13,75.67 L412.53,75.67 Z" fill="none" stroke="#000" stroke-width="1.1" stroke-linejoin="miter"/>
<path d="M422.89,89.89 L426.69,97.09 L419.09,97.09 Z" fill="none" stroke="#000" stroke-width="1.1" stroke-linejoin="miter"/>
<path d="M429.06,107.06 L432.86,114.25 L425.26,114.25 Z" fill="none" stroke="#000" stroke-width="1.1" stroke-linejoin="miter"/>
<path d="M445.53,138.03 L449.33,145.23 L441.73,145.23 Z" fill="none" stroke="#000" stroke-width="1.1" stroke-linejoin="miter"/>
<path d="M469.75,156.08 L473.55,163.28 L465.95,163.28 Z" fill="none" stroke="#000" stroke-width="1.1" stroke-linejoin="miter"/>
<path d="M523.09,178.03 L526.89,185.23 L519.29,185.23 Z" fill="none" stroke="#000" stroke-width="1.1" stroke-linejoin="miter"/>
<path d="M610.95,184.05 L614.75,191.25 L607.15,191.25 Z" fill="none" stroke="#000" stroke-width="1.1" stroke-linejoin="miter"/>
<path d="M680.85,185.47 L684.65,192.67 L677.05,192.67 Z" fill="none" stroke="#000" stroke-width="1.1" stroke-linejoin="miter"/>
<path d="M407.70,20.60 L407.71,20.82 L407.72,21.12 L407.71,21.47 L407.71,21.87 L407.71,22.30 L407.72,22.75 L407.74,23.20 L407.78,23.63 L407.84,24.03 L407.93,24.38 L408.04,24.68 L408.20,24.90 L408.39,25.06 L408.62,25.19 L408.89,25.29 L409.17,25.36 L409.48,25.40 L409.81,25.41 L410.15,25.39 L410.50,25.35 L410.86,25.27 L411.21,25.18 L411.56,25.05 L411.90,24.90 L412.23,24.69 L412.56,24.39 L412.88,24.03 L413.20,23.62 L413.53,23.18 L413.87,22.74 L414.21,22.30 L414.57,21.90 L414.95,21.55 L415.34,21.27 L415.76,21.08 L416.20,21.00 L416.67,21.04 L417.17,21.20 L417.70,21.45 L418.24,21.77 L418.81,22.15 L419.38,22.55 L419.96,22.96 L420.54,23.36 L421.12,23.72 L421.70,24.03 L422.26,24.26 L422.80,24.40 L423.30,24.45 L423.74,24.43 L424.13,24.36 L424.51,24.25 L424.89,24.10 L425.28,23.93 L425.70,23.74 L426.18,23.55 L426.73,23.36 L427.37,23.18 L428.12,23.03 L429.00,22.90 L430.00,22.78 L431.08,22.66 L432.25,22.53 L433.50,22.39 L434.82,22.26 L436.21,22.14 L437.65,22.03 L439.16,21.93 L440.71,21.85 L442.30,21.81 L443.93,21.79 L445.60,21.80 L447.23,21.86 L448.79,21.96 L450.33,22.10 L451.87,22.27 L453.46,22.46 L455.14,22.66 L456.95,22.87 L458.92,23.07 L461.11,23.27 L463.54,23.44 L466.26,23.59 L469.30,23.70 L472.61,23.78 L476.11,23.83 L479.79,23.85 L483.68,23.86 L487.78,23.86 L492.09,23.86 L496.62,23.85 L501.39,23.85 L506.39,23.86 L511.64,23.88 L517.14,23.93 L522.90,24.00 L529.08,24.12 L535.77,24.28 L542.88,24.48 L550.32,24.70 L558.00,24.93 L565.82,25.16 L573.71,25.37 L581.56,25.56 L589.28,25.71 L596.79,25.81 L603.99,25.84 L610.80,25.80 L617.48,25.67 L624.31,25.45 L631.20,25.15 L638.05,24.81 L644.78,24.42 L651.29,24.01 L657.50,23.60 L663.31,23.19 L668.64,22.81 L673.39,22.48 L677.47,22.20 L680.80,22.00" fill="none" stroke="#000" stroke-width="1.6"/>
<rect x="403.75" y="16.65" width="7.9" height="7.9" fill="#000"/>
<rect x="404.25" y="20.95" width="7.9" height="7.9" fill="#000"/>
<rect x="407.95" y="20.95" width="7.9" height="7.9" fill="#000"/>
<rect x="412.25" y="17.05" width="7.9" height="7.9" fill="#000"/>
<rect x="418.85" y="20.45" width="7.9" height="7.9" fill="#000"/>
<rect x="425.05" y="18.95" width="7.9" height="7.9" fill="#000"/>
<rect x="441.65" y="17.85" width="7.9" height="7.9" fill="#000"/>
<rect x="465.35" y="19.75" width="7.9" height="7.9" fill="#000"/>
<rect x="518.95" y="20.05" width="7.9" height="7.9" fill="#000"/>
<rect x="606.85" y="21.85" width="7.9" height="7.9" fill="#000"/>
<rect x="676.85" y="18.05" width="7.9" height="7.9" fill="#000"/>
<text x="0" y="0" font-size="14.5" fill="#595959" transform="translate(368.9,154.8) rotate(-90)" textLength="94.7" lengthAdjust="spacingAndGlyphs">Profoxydim (%)</text>
<text x="511.8" y="227.5" font-size="14.5" fill="#595959" textLength="50.4" lengthAdjust="spacingAndGlyphs">Time (h)</text>
<text x="345.6" y="27.9" font-size="20.5" fill="#000">b)</text>
<rect x="375.70" y="230.80" width="7.6" height="7.6" fill="none" stroke="#404040" stroke-width="1.3"/>
<path d="M472.80,231.05 L476.80,238.55 L468.80,238.55 Z" fill="none" stroke="#262626" stroke-width="1.3" stroke-linejoin="miter"/>
<path d="M578.7,234.5 H606.6" stroke="#000" stroke-width="1.6"/>
<rect x="589.00" y="230.90" width="7.6" height="7.6" fill="#000"/>
<text x="396.6" y="238.8" font-size="13.2" fill="#595959" textLength="54" lengthAdjust="spacingAndGlyphs">Paddy soil</text>
<text x="489.8" y="238.8" font-size="13.2" fill="#595959" textLength="80.6" lengthAdjust="spacingAndGlyphs">Paddy soil + BC</text>
<text x="609.9" y="238.8" font-size="13.2" fill="#595959" textLength="66.1" lengthAdjust="spacingAndGlyphs">Dark control</text>
</svg>
</body></html>
